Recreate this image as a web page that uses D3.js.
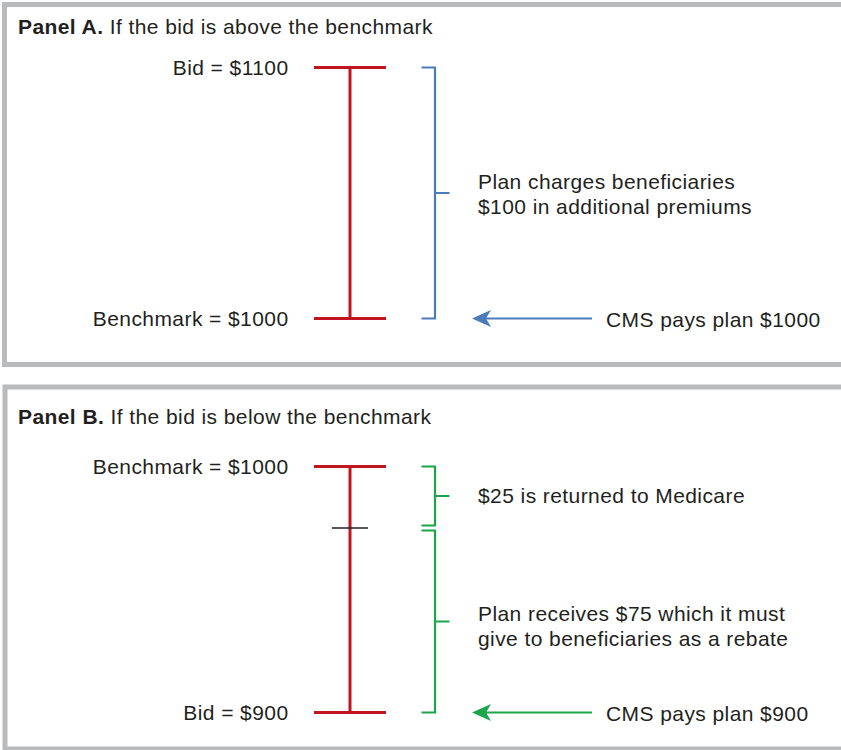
<!DOCTYPE html>
<html>
<head>
<meta charset="utf-8">
<script src="https://cdn.jsdelivr.net/npm/d3@7"></script>
<style>
  html, body { margin: 0; padding: 0; background: #ffffff; }
  svg { display: block; }
  text { font-family: "Liberation Sans", Arial, Helvetica, sans-serif; fill: #231f20; letter-spacing: 0.42px; }
</style>
</head>
<body>
<svg id="chart" width="841" height="750"></svg>
<script>
// ---------- data ----------
const panelTitlesBold = ["Panel A.", "Panel B."];
const panelTitlesRest = [" If the bid is above the benchmark", " If the bid is below the benchmark"];

const panelALabels = ["Bid = $1100", "Benchmark = $1000"];
const panelAValues = [1100, 1000];
const panelANote = ["Plan charges beneficiaries", "$100 in additional premiums"];
const panelAPayment = "CMS pays plan $1000";
const panelAPaymentValue = 1000;

const panelBLabels = ["Benchmark = $1000", "Bid = $900"];
const panelBValues = [1000, 900];
const panelBSplit = 975;            // $25 returned to Medicare
const panelBNoteTop = ["$25 is returned to Medicare"];
const panelBNoteBottom = ["Plan receives $75 which it must", "give to beneficiaries as a rebate"];
const panelBPayment = "CMS pays plan $900";
const panelBPaymentValue = 900;

// ---------- style ----------
const RED = "#c1141f", BLUE = "#4a7cbc", GREEN = "#1ba64b", GRAY = "#b9babc", INK = "#231f20";
const FS = 21;

const svg = d3.select("#chart");

// panel frames
const frames = [{x: 4.5, y: 4.5, h: 360}, {x: 5, y: 387, h: 362}];
svg.selectAll("rect.frame").data(frames).join("rect")
  .attr("class", "frame")
  .attr("x", d => d.x).attr("y", d => d.y)
  .attr("width", 900).attr("height", d => d.h)
  .attr("fill", "none").attr("stroke", GRAY).attr("stroke-width", 5);

// panel titles
const titleY = [34, 424];
const titles = svg.selectAll("text.title").data(panelTitlesBold).join("text")
  .attr("class", "title")
  .attr("x", 18).attr("y", (d, i) => titleY[i])
  .attr("font-size", FS);
titles.append("tspan").attr("font-weight", "bold").text(d => d);
titles.append("tspan").text((d, i) => panelTitlesRest[i]);

// layout constants
const X_LABEL = 288.5, X_BAR0 = 314, X_BAR1 = 386, X_STEM = 350;
const X_BR0 = 421.5, X_BR = 435, X_BRTICK = 449.5, X_NOTE = 478;
const X_ARROW_TIP = 472, X_ARROW_END = 592, X_PAY = 606;

function drawArrow(g, y, color) {
  g.append("line")
    .attr("x1", X_ARROW_TIP + 12).attr("x2", X_ARROW_END)
    .attr("y1", y).attr("y2", y)
    .attr("stroke", color).attr("stroke-width", 2);
  const p = d3.path();
  p.moveTo(X_ARROW_TIP, y);
  p.lineTo(X_ARROW_TIP + 19, y - 8.5);
  p.lineTo(X_ARROW_TIP + 14, y);
  p.lineTo(X_ARROW_TIP + 19, y + 8.5);
  p.closePath();
  g.append("path").attr("d", p.toString()).attr("fill", color);
}

function drawBracket(g, yTop, yBot, color) {
  const yMid = (yTop + yBot) / 2;
  g.append("path")
    .attr("d", `M${X_BR0},${yTop}H${X_BR}V${yBot}H${X_BR0}M${X_BR},${yMid}H${X_BRTICK}`)
    .attr("fill", "none").attr("stroke", color).attr("stroke-width", 2.2);
  return yMid;
}

function drawLevels(g, y, labels, values) {
  g.append("line")
    .attr("x1", X_STEM).attr("x2", X_STEM)
    .attr("y1", y(d3.max(values))).attr("y2", y(d3.min(values)))
    .attr("stroke", RED).attr("stroke-width", 3);
  g.selectAll("line.level").data(values).join("line")
    .attr("class", "level")
    .attr("x1", X_BAR0).attr("x2", X_BAR1)
    .attr("y1", d => y(d)).attr("y2", d => y(d))
    .attr("stroke", RED).attr("stroke-width", 3);
  g.selectAll("text.level").data(values).join("text")
    .attr("class", "level")
    .attr("x", X_LABEL).attr("y", d => y(d) + 7.5)
    .attr("text-anchor", "end").attr("font-size", FS)
    .text((d, i) => labels[i]);
}

function drawNote(g, lines, yFirst) {
  g.selectAll(null).data(lines).join("text")
    .attr("x", X_NOTE).attr("y", (d, i) => yFirst + i * 25.5)
    .attr("font-size", FS).text(d => d);
}

// ---------- Panel A ----------
const gA = svg.append("g");
const yA = d3.scaleLinear().domain([1000, 1100]).range([318.5, 67.5]);
drawLevels(gA, yA, panelALabels, panelAValues);
const midA = drawBracket(gA, yA(d3.max(panelAValues)), yA(d3.min(panelAValues)), BLUE);
drawNote(gA, panelANote, midA - 4.5);
drawArrow(gA, yA(panelAPaymentValue), BLUE);
gA.append("text").attr("x", X_PAY).attr("y", yA(panelAPaymentValue) + 8)
  .attr("font-size", FS).text(panelAPayment);

// ---------- Panel B ----------
const gB = svg.append("g");
const yB = d3.scaleLinear().domain([900, 1000]).range([712.5, 466.5]);
drawLevels(gB, yB, panelBLabels, panelBValues);
// split tick
gB.append("line")
  .attr("x1", 332).attr("x2", 368)
  .attr("y1", yB(panelBSplit)).attr("y2", yB(panelBSplit))
  .attr("stroke", INK).attr("stroke-width", 1.5);
const midB1 = drawBracket(gB, yB(d3.max(panelBValues)), yB(panelBSplit) - 2.5, GREEN);
const midB2 = drawBracket(gB, yB(panelBSplit) + 2.5, yB(d3.min(panelBValues)), GREEN);
drawNote(gB, panelBNoteTop, midB1 + 7);
drawNote(gB, panelBNoteBottom, midB2 - 1);
drawArrow(gB, yB(panelBPaymentValue), GREEN);
gB.append("text").attr("x", X_PAY).attr("y", yB(panelBPaymentValue) + 8)
  .attr("font-size", FS).text(panelBPayment);
</script>
</body>
</html>
